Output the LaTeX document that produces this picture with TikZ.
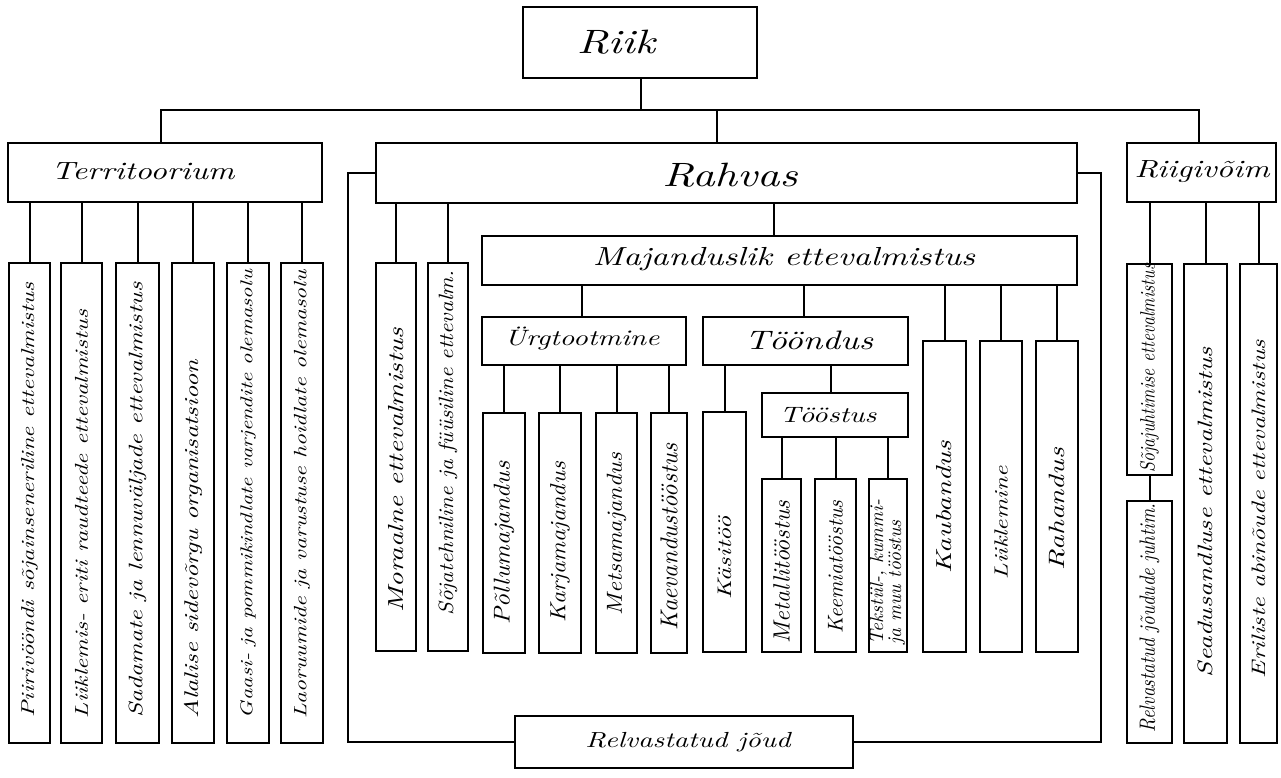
\documentclass[tikz,border=0pt]{standalone}
\usepackage{fontspec}
\usepackage{graphicx}
\usetikzlibrary{fit,calc}
\newcommand{\hw}[3][1.3]{\resizebox{#2pt}{!}{\scalebox{#1}[1]{\itshape #3}}}
\tikzset{
  box/.style={draw, line width=2pt, inner sep=0pt},
  conn/.style={line width=2pt},
  lbl/.style={inner sep=0pt},
  vlbl/.style={inner sep=0pt, rotate=90}
}
\begin{document}
\begin{tikzpicture}[x=1pt,y=-1pt]
\useasboundingbox[fill=white] (0,0) rectangle (1281,777);
\coordinate (bus) at (0,110);
% top
\node[box, fit={(523,7)(757,78)}] (riik) {};
\node[lbl] (riikT) at (616,42) {\hw{78}{Riik}};
% level 2
\node[box, fit={(8,143)(322,202)}] (terr) {};
\node[lbl] (terrT) at (143,171) {\hw{183}{Territoorium}};
\node[box, fit={(376,143)(1077,203)}] (rahvas) {};
\node[lbl] (rahvasT) at (730,175) {\hw{135}{Rahvas}};
\node[box, fit={(1127,143)(1276,202)}] (rv) {};
\node[lbl] (rvT) at (1202,172) {\hw{135}{Riigivõim}};
\draw[conn] (641,0 |- riik.south) -- (641,0 |- bus);
\draw[conn] (161,0 |- terr.north) |- (1199,0 |- bus) -- (1199,0 |- rv.north);
\draw[conn] (717,0 |- rahvas.north) -- (717,0 |- bus);
% relvastatud joud
\node[box, fit={(515,716)(853,768)}] (relv) {};
\node[lbl] (relvT) at (688,742) {\hw{205}{Relvastatud jõud}};
\draw[conn] (rahvas.west) -- ++(-27,0) |- (relv.west);
\draw[conn] (rahvas.east) -- ++(23,0) |- (relv.east);
% Territoorium children
\node[box, fit={(9,263)(50,743)}] (t1) {};
\node[box, fit={(61,263)(102,743)}] (t2) {};
\node[box, fit={(116,263)(159,743)}] (t3) {};
\node[box, fit={(172,263)(214,743)}] (t4) {};
\node[box, fit={(227,263)(269,743)}] (t5) {};
\node[box, fit={(281,263)(323,743)}] (t6) {};
\foreach \n in {t1,t2,t3,t4,t5,t6} \draw[conn] (\n.north) -- (\n.north |- terr.south);
\node[vlbl] (t1T) at (29.5,500) {\hw{435}{Piirivööndi sõjainseneriline ettevalmistus}};
\node[vlbl] (t2T) at (81.5,514) {\hw{408}{Liiklemis- eriti raudteede ettevalmistus}};
\node[vlbl] (t3T) at (137.5,500) {\hw{435}{Sadamate ja lennuväljade ettevalmistus}};
\node[vlbl] (t4T) at (193,539) {\hw{358}{Alalise sidevõrgu organisatsioon}};
\node[vlbl] (t5T) at (248,494) {\hw{448}{Gaasi- ja pommikindlate varjendite olemasolu}};
\node[vlbl] (t6T) at (302,494) {\hw{448}{Laoruumide ja varustuse hoidlate olemasolu}};
% Rahvas children
\node[box, fit={(376,263)(416,651)}] (r1) {};
\node[box, fit={(428,263)(468,651)}] (r2) {};
\foreach \n in {r1,r2} \draw[conn] (\n.north) -- (\n.north |- rahvas.south);
\node[vlbl] (r1T) at (396,470) {\hw{285}{Moraalne ettevalmistus}};
\node[vlbl] (r2T) at (448,443) {\hw[1.1]{345}{Sõjatehniline ja füüsiline ettevalm.}};
\node[box, fit={(482,236)(1077,285)}] (maj) {};
\node[lbl] (majT) at (784,259) {\hw{382}{Majanduslik ettevalmistus}};
\draw[conn] (774,0 |- maj.north) -- (774,0 |- rahvas.south);
% Majanduslik children
\node[box, fit={(482,317)(686,365)}] (urg) {};
\node[lbl] (urgT) at (582,339) {\hw{155}{Ürgtootmine}};
\node[box, fit={(703,317)(908,365)}] (toond) {};
\node[lbl] (toondT) at (809,340) {\hw{128}{Tööndus}};
\draw[conn] (582,0 |- urg.north) -- (582,0 |- maj.south);
\draw[conn] (804,0 |- toond.north) -- (804,0 |- maj.south);
\node[box, fit={(923,341)(966,652)}] (kau) {};
\node[box, fit={(980,341)(1022,652)}] (lii) {};
\node[box, fit={(1036,341)(1078,652)}] (rah) {};
\foreach \n in {kau,lii,rah} \draw[conn] (\n.north) -- (\n.north |- maj.south);
\node[vlbl] (kauT) at (944.5,507) {\hw{133}{Kaubandus}};
\node[vlbl] (liiT) at (1001,523) {\hw{113}{Liiklemine}};
\node[vlbl] (rahT) at (1057,509) {\hw{122}{Rahandus}};
% Urgtootmine children
\node[box, fit={(483,413)(525,653)}] (u1) {};
\node[box, fit={(539,413)(581,653)}] (u2) {};
\node[box, fit={(596,413)(637,653)}] (u3) {};
\node[box, fit={(651,413)(687,653)}] (u4) {};
\foreach \n in {u1,u2,u3,u4} \draw[conn] (\n.north) -- (\n.north |- urg.south);
\node[vlbl] (u1T) at (504,543) {\hw[1.1]{163}{Põllumajandus}};
\node[vlbl] (u2T) at (560,542) {\hw[1.1]{160}{Karjamajandus}};
\node[vlbl] (u3T) at (616.5,534) {\hw[1.1]{162}{Metsamajandus}};
\node[vlbl] (u4T) at (669,537) {\hw[1.0]{187}{Kaevandustööstus}};
% Tooondus children
\node[box, fit={(703,412)(746,652)}] (kasi) {};
\draw[conn] (kasi.north) -- (kasi.north |- toond.south);
\node[vlbl] (kasiT) at (724.5,558) {\hw{83}{Käsitöö}};
\node[box, fit={(762,393)(908,437)}] (toos) {};
\node[lbl] (toosT) at (828,415) {\hw{97}{Tööstus}};
\draw[conn] (831,0 |- toos.north) -- (831,0 |- toond.south);
\node[box, fit={(762,479)(801,652)}] (s1) {};
\node[box, fit={(815,479)(856,652)}] (s2) {};
\node[box, fit={(869,479)(907,652)}] (s3) {};
\foreach \n in {s1,s2,s3} \draw[conn] (\n.north) -- (\n.north |- toos.south);
\node[vlbl] (s1T) at (781.5,572) {\hw[1.0]{143}{Metallitööstus}};
\node[vlbl] (s2T) at (835.5,567) {\hw[1.0]{133}{Keemiatööstus}};
\node[vlbl] (s3T) at (888,572) {\hw[1.0]{145}{\renewcommand{\arraystretch}{0.75}\begin{tabular}{@{}l@{}}Tekstiil-, kummi-\\ ja muu tööstus\end{tabular}}};
% Riigivoim children
\node[box, fit={(1127,264)(1172,475)}] (v1) {};
\node[box, fit={(1127,501)(1172,743)}] (v1b) {};
\node[box, fit={(1184,264)(1227,743)}] (v2) {};
\node[box, fit={(1240,264)(1277,743)}] (v3) {};
\foreach \n in {v1,v2,v3} \draw[conn] (\n.north) -- (\n.north |- rv.south);
\draw[conn] (v1.south) -- (v1b.north);
\node[vlbl] (v1T) at (1149.5,368) {\hw[0.85]{209}{Sõjajuhtimise ettevalmistus}};
\node[vlbl] (v1bT) at (1149.5,618) {\hw[0.85]{229}{Relvastatud jõudude juhtim.}};
\node[vlbl] (v2T) at (1205.5,512) {\hw{330}{Seadusandluse ettevalmistus}};
\node[vlbl] (v3T) at (1258.5,509) {\hw{338}{Eriliste abinõude ettevalmistus}};
\end{tikzpicture}
\end{document}
